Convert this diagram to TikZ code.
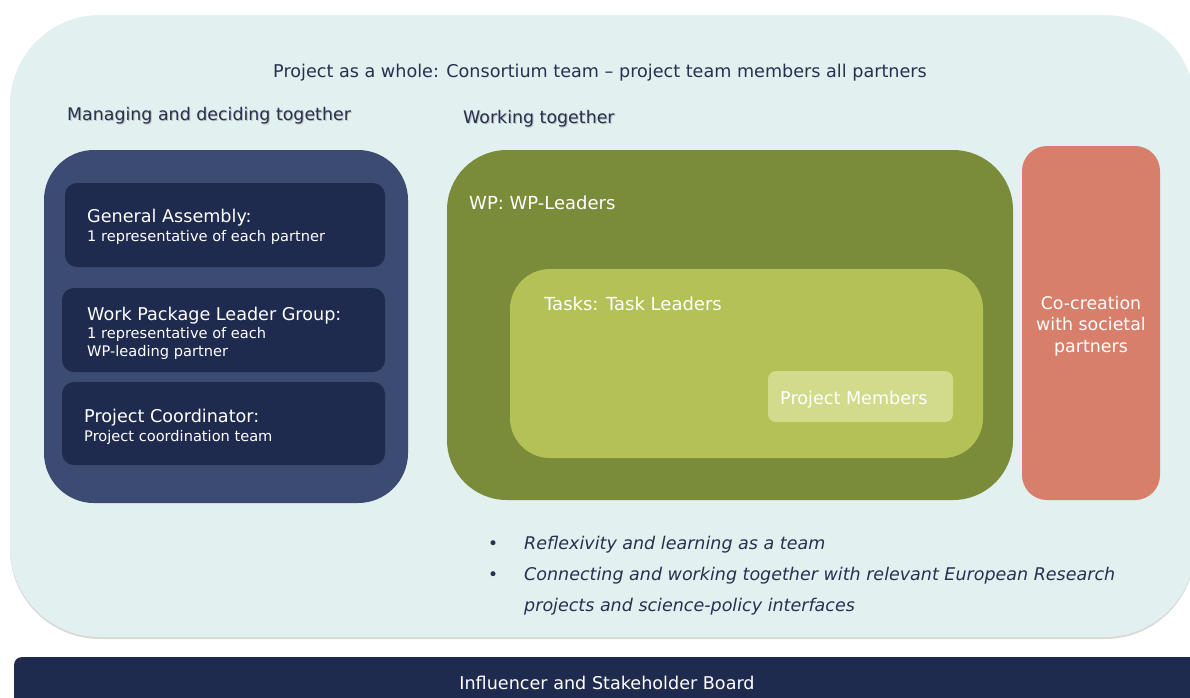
\documentclass[tikz,border=0pt]{standalone}
\usepackage{fontspec}
\setmainfont{DejaVu Sans}
\definecolor{mist}{HTML}{E2F0F0}
\definecolor{navy}{HTML}{1F2A4F}
\definecolor{slate}{HTML}{3B4B72}
\definecolor{olive}{HTML}{7A8C3A}
\definecolor{lime}{HTML}{B3C156}
\definecolor{paleLime}{HTML}{D2DA8C}
\definecolor{salmon}{HTML}{D77F6B}
\definecolor{ink}{HTML}{26304F}

\begin{document}
\begin{tikzpicture}[x=1pt,y=-1pt]
  \tikzset{
    big/.style={font=\fontsize{17.6}{20}\selectfont},
    small/.style={font=\fontsize{14.6}{16}\selectfont},
    lbl/.style={anchor=base west, inner sep=0, text=white, big},
    sub/.style={anchor=base west, inner sep=0, text=white, small},
    head/.style={anchor=base west, inner sep=0, text=ink, font=\fontsize{17.4}{20}\selectfont},
    shade/.style={head, text=black!25},
    bullet/.style={anchor=base west, inner sep=0, text=ink, font=\fontsize{17.5}{20}\selectfont\itshape},
    dot/.style={anchor=base west, inner sep=0, text=ink, font=\fontsize{17}{20}\selectfont}
  }
  \useasboundingbox (0,0) rectangle (1190,697);
  \clip (0,0) rectangle (1190,697);

  % consortium background
  \fill[black!15, rounded corners=90] (10,17) rectangle (1195,639);
  \fill[mist, rounded corners=90] (10,15) rectangle (1195,637);
  \node[anchor=base, inner sep=0, text=ink, big] (whole) at (600,77)
    {Project as a whole: Consortium team – project team members all partners};

  % managing side
  \node[shade] (manShade) at (68,121) {Managing and deciding together};
  \node[head] (managing) at (67,120) {Managing and deciding together};
  \fill[slate, rounded corners=50] (44,150) rectangle (408,503);
  \fill[navy, rounded corners=12] (65,183) rectangle (385,267);
  \fill[navy, rounded corners=12] (62,288) rectangle (385,372);
  \fill[navy, rounded corners=12] (62,382) rectangle (385,465);
  \node[lbl] (ga) at (87,222) {General Assembly:};
  \node[sub] (gaSub) at (87,241) {1 representative of each partner};
  \node[lbl] (wplg) at (87,320) {Work Package Leader Group:};
  \node[sub] (wplgSub) at (87,338) {1 representative of each};
  \node[sub] (wplgSub2) at (87,356) {WP-leading partner};
  \node[lbl] (pc) at (84,422) {Project Coordinator:};
  \node[sub] (pcSub) at (84,441) {Project coordination team};

  % working side
  \node[shade] (workShade) at (464,124) {Working together};
  \node[head] (working) at (463,123) {Working together};
  \fill[olive, rounded corners=60] (447,150) rectangle (1013,500);
  \fill[lime, rounded corners=40] (510,269) rectangle (983,458);
  \fill[paleLime, rounded corners=8] (768,371) rectangle (953,422);
  \node[lbl, font=\fontsize{18}{20}\selectfont] (wp) at (469,209) {WP: WP-Leaders};
  \node[lbl, font=\fontsize{18}{20}\selectfont] (tasks) at (544,310) {Tasks: Task Leaders};
  \node[lbl] (members) at (780,404) {Project Members};

  % co-creation column
  \fill[salmon, rounded corners=25] (1022,146) rectangle (1160,500);
  \node[align=center, inner sep=0, text=white, font=\fontsize{17.4}{21.5}\selectfont] (cocreate) at (1091,326)
    {Co-creation\\with societal\\partners};

  % bullet points
  \node[dot] (dot1) at (488,549) {•};
  \node[bullet] (reflex) at (524,549) {Reflexivity and learning as a team};
  \node[dot] (dot2) at (488,580) {•};
  \node[bullet] (connect) at (524,580) {Connecting and working together with relevant European Research};
  \node[bullet] (connect2) at (524,611) {projects and science-policy interfaces};

  % board
  \fill[navy, rounded corners=8] (14,657) rectangle (1200,710);
  \node[anchor=base, inner sep=0, text=white, big] (board) at (607,689) {Influencer and Stakeholder Board};
\end{tikzpicture}
\end{document}
